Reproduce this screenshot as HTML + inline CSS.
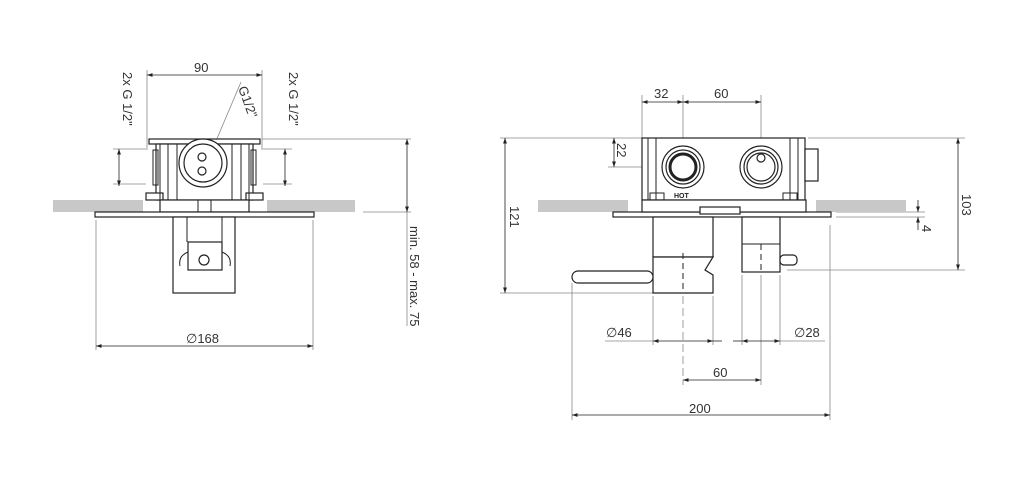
<!DOCTYPE html>
<html><head><meta charset="utf-8"><style>
html,body{margin:0;padding:0;background:#fff;}
svg{display:block;}
text{font-family:"Liberation Sans",sans-serif;font-size:13px;fill:#333;}
</style></head><body>
<svg width="1024" height="480" viewBox="0 0 1024 480" xmlns="http://www.w3.org/2000/svg">
<defs>
<marker id="a" viewBox="0 0 10 10" refX="10" refY="5" markerWidth="7" markerHeight="7" orient="auto-start-reverse"><path d="M0,1.5L10,5L0,8.5z" fill="#222"/></marker>
</defs>
<g stroke="#888" stroke-width="0.8" fill="none">
<line x1="147" y1="70" x2="147" y2="150"/><line x1="262" y1="70" x2="262" y2="150"/>
<line x1="113" y1="149" x2="146" y2="149"/><line x1="113" y1="184" x2="146" y2="184"/>
<line x1="263" y1="149" x2="292" y2="149"/><line x1="263" y1="184" x2="292" y2="184"/>
<line x1="262" y1="139" x2="411" y2="139"/><line x1="363" y1="212" x2="411" y2="212"/>
<line x1="407" y1="212" x2="407" y2="326"/>
<line x1="96" y1="220" x2="96" y2="350"/><line x1="313" y1="220" x2="313" y2="350"/>
<line x1="213" y1="148" x2="241" y2="82"/>
<line x1="642" y1="95" x2="642" y2="138"/><line x1="683" y1="95" x2="683" y2="150"/><line x1="761" y1="95" x2="761" y2="150"/>
<line x1="500" y1="138" x2="642" y2="138"/><line x1="808" y1="138" x2="965" y2="138"/>
<line x1="608" y1="167" x2="660" y2="167"/>
<line x1="500" y1="293" x2="653" y2="293"/><line x1="787" y1="270" x2="965" y2="270"/>
<line x1="836" y1="212" x2="925" y2="212"/><line x1="836" y1="217" x2="925" y2="217"/>
<line x1="572" y1="283" x2="572" y2="420"/><line x1="830" y1="225" x2="830" y2="420"/>
<line x1="653" y1="296" x2="653" y2="345"/><line x1="713" y1="296" x2="713" y2="345"/>
<line x1="742" y1="275" x2="742" y2="345"/><line x1="780" y1="275" x2="780" y2="345"/>
<line x1="761" y1="275" x2="761" y2="385"/>
<line x1="683" y1="296" x2="683" y2="385" stroke-dasharray="8,4"/>
<line x1="605" y1="341" x2="653" y2="341"/><line x1="780" y1="341" x2="825" y2="341"/>
</g>
<g stroke="#222" stroke-width="0.8" fill="none" marker-start="url(#a)" marker-end="url(#a)">
<line x1="147" y1="75" x2="262" y2="75"/>
<line x1="119" y1="149" x2="119" y2="186"/>
<line x1="285" y1="149" x2="285" y2="186"/>
<line x1="407" y1="139" x2="407" y2="212"/>
<line x1="96" y1="346" x2="313" y2="346"/>
<line x1="642" y1="102" x2="683" y2="102"/>
<line x1="683" y1="102" x2="761" y2="102"/>
<line x1="614" y1="138" x2="614" y2="167"/>
<line x1="505" y1="138" x2="505" y2="293"/>
<line x1="958" y1="138" x2="958" y2="270"/>
<line x1="653" y1="341" x2="713" y2="341"/>
<line x1="742" y1="341" x2="780" y2="341"/>
<line x1="683" y1="380" x2="761" y2="380"/>
<line x1="572" y1="415" x2="830" y2="415"/>
</g>
<g stroke="#222" stroke-width="0.8" fill="none">
<line x1="713" y1="341" x2="722" y2="341"/><line x1="733" y1="341" x2="742" y2="341"/>
<line x1="918" y1="200" x2="918" y2="212" marker-end="url(#a)"/>
<line x1="918" y1="230" x2="918" y2="217" marker-end="url(#a)"/>
</g>
<g fill="#c8c8c8">
<rect x="53" y="200" width="90" height="12"/><rect x="267" y="200" width="88" height="12"/>
<rect x="538" y="200" width="90" height="12"/><rect x="816" y="200" width="90" height="12"/>
</g>
<g stroke="#222" stroke-width="1.2" fill="#fff">
<rect x="149" y="139" width="111" height="5"/>
<rect x="156" y="144" width="97" height="56"/>
<rect x="146" y="193" width="17" height="7"/><rect x="246" y="193" width="17" height="7"/>
<rect x="160" y="200" width="89" height="12"/>
<rect x="95" y="212" width="219" height="5"/>
<rect x="173" y="217" width="62" height="76"/>
<rect x="188" y="242" width="34" height="28"/>
<circle cx="204" cy="260" r="5"/>
<circle cx="203" cy="163" r="24"/><circle cx="203" cy="163" r="19"/>
<circle cx="202" cy="157" r="4"/><circle cx="202" cy="171" r="4"/>
</g>
<g stroke="#222" stroke-width="1" fill="none">
<line x1="160" y1="144" x2="160" y2="200"/><line x1="168" y1="144" x2="168" y2="200"/><line x1="177" y1="144" x2="177" y2="200"/>
<line x1="232" y1="144" x2="232" y2="200"/><line x1="241" y1="144" x2="241" y2="200"/><line x1="249" y1="144" x2="249" y2="200"/>
<rect x="153" y="150" width="5" height="35"/><rect x="251" y="150" width="5" height="35"/>
<line x1="187" y1="217" x2="187" y2="242"/><line x1="222" y1="217" x2="222" y2="242"/>
<line x1="198" y1="200" x2="198" y2="212"/><line x1="211" y1="200" x2="211" y2="212"/>
<path d="M188,252 Q178,256 180,266"/><path d="M222,252 Q232,256 230,266"/>
</g>
<g stroke="#222" stroke-width="1.2" fill="#fff">
<rect x="642" y="138" width="163" height="62"/>
<rect x="805" y="149" width="13" height="32"/>
<rect x="613" y="212" width="218" height="5"/>
<rect x="642" y="200" width="164" height="12"/>
<rect x="653" y="217" width="60" height="40"/>
<path d="M653,257 L713,257 L705,270 L713,275 L713,293 L653,293Z"/>
<rect x="572" y="271" width="81" height="12" rx="6"/>
<rect x="742" y="217" width="38" height="55"/>
<rect x="780" y="255" width="17" height="10" rx="4"/>
<circle cx="683" cy="167" r="21"/><circle cx="683" cy="167" r="17"/><circle cx="683" cy="167" r="13" stroke-width="3"/>
<circle cx="761" cy="167" r="21"/><circle cx="761" cy="167" r="17"/><circle cx="761" cy="167" r="14"/>
<circle cx="761" cy="158" r="4"/>
<rect x="700" y="207" width="40" height="7"/>
</g>
<g stroke="#222" stroke-width="1" fill="none">
<line x1="648" y1="138" x2="648" y2="200"/><line x1="656" y1="138" x2="656" y2="200"/>
<line x1="790" y1="138" x2="790" y2="200"/><line x1="798" y1="138" x2="798" y2="200"/>
<rect x="650" y="193" width="14" height="7"/><rect x="783" y="193" width="14" height="7"/>
<line x1="742" y1="244" x2="780" y2="244"/>
<line x1="683" y1="253" x2="683" y2="293" stroke-dasharray="6,4"/>
<line x1="761" y1="244" x2="761" y2="272" stroke-dasharray="6,4"/>
</g>
<text x="194" y="72">90</text>
<text transform="translate(123,72) rotate(90)">2x G 1/2"</text>
<text transform="translate(289,72) rotate(90)">2x G 1/2"</text>
<text transform="translate(238,88) rotate(70)">G1/2"</text>
<text transform="translate(410,226) rotate(90)">min. 58 - max. 75</text>
<text x="186" y="343">∅168</text>
<text x="654" y="98">32</text>
<text x="714" y="98">60</text>
<text transform="translate(617,143) rotate(90)">22</text>
<text transform="translate(510,206) rotate(90)">121</text>
<text transform="translate(962,194) rotate(90)">103</text>
<text transform="translate(922,225) rotate(90)">4</text>
<text x="674" y="198" style="font-size:7px;font-weight:bold;fill:#222">HOT</text>
<text x="606" y="337">∅46</text>
<text x="794" y="337">∅28</text>
<text x="713" y="377">60</text>
<text x="689" y="413">200</text>
</svg>
</body></html>
